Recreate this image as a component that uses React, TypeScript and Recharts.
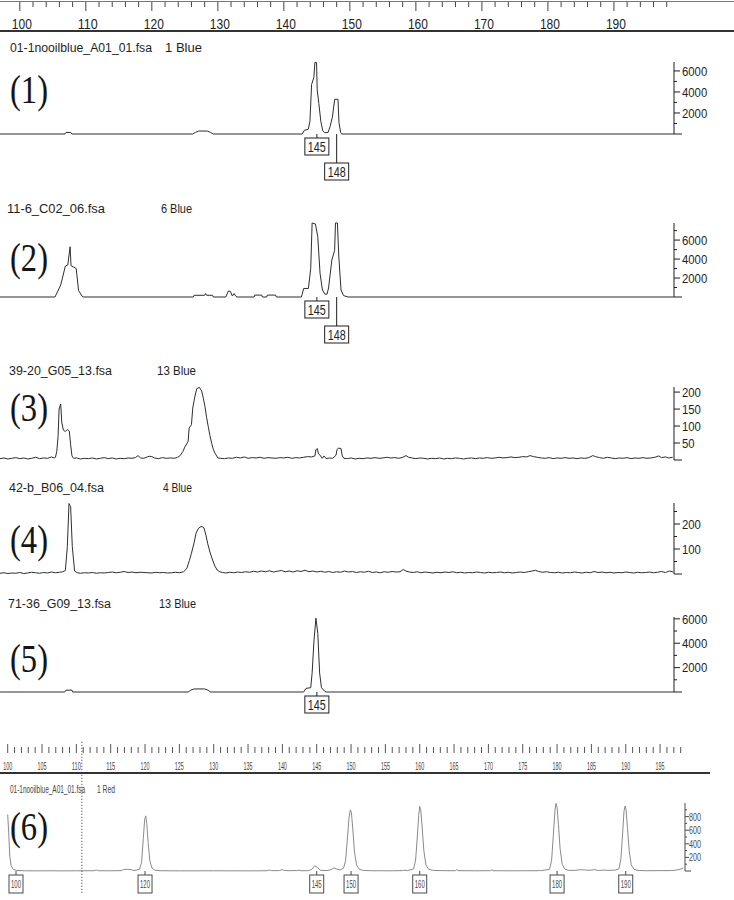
import React from 'react';
import { LineChart, Line, XAxis, YAxis, ReferenceDot, ReferenceLine } from 'recharts';

const SANS = '"Liberation Sans", Arial, sans-serif';
const SERIF = '"Liberation Serif", "Times New Roman", serif';
const INK = '#1e1e1e';
const TRACE = '#2e2e2e';
const GREY = '#4a4a4a';
const RED_TRACE = '#8a8a8a';

// ---------- size axes ----------
const SIZE_DOMAIN: [number, number] = [97.0, 199.1];
const RED_DOMAIN: [number, number] = [98.88, 198.63];

const topRulerTicks = [100, 102, 104, 106, 108, 110, 112, 114, 116, 118, 120, 122, 124, 126, 128, 130, 132, 134, 136, 138, 140, 142, 144, 146, 148, 150, 152, 154, 156, 158, 160, 162, 164, 166, 168, 170, 172, 174, 176, 178, 180, 182, 184, 186, 188, 190, 192, 194, 196, 198];
const topRulerLabels = [100, 110, 120, 130, 140, 150, 160, 170, 180, 190];

const redRulerTicks = [
  100, 101, 102, 103, 104, 105, 106, 107, 108, 109,
  110, 111, 112, 113, 114, 115, 116, 117, 118, 119,
  120, 121, 122, 123, 124, 125, 126, 127, 128, 129,
  130, 131, 132, 133, 134, 135, 136, 137, 138, 139,
  140, 141, 142, 143, 144, 145, 146, 147, 148, 149,
  150, 151, 152, 153, 154, 155, 156, 157, 158, 159,
  160, 161, 162, 163, 164, 165, 166, 167, 168, 169,
  170, 171, 172, 173, 174, 175, 176, 177, 178, 179,
  180, 181, 182, 183, 184, 185, 186, 187, 188, 189,
  190, 191, 192, 193, 194, 195, 196, 197, 198,
];
const redRulerLabels = [100, 105, 110, 115, 120, 125, 130, 135, 140, 145, 150, 155, 160, 165, 170, 175, 180, 185, 190, 195];

// ---------- sample names ----------
const sampleFiles = ['01-1nooilblue_A01_01.fsa', '11-6_C02_06.fsa', '39-20_G05_13.fsa', '42-b_B06_04.fsa', '71-36_G09_13.fsa'];
const dyeLabels = ['1 Blue', '6 Blue', '13 Blue', '4 Blue', '13 Blue'];
const panelNumbers = ['(1)', '(2)', '(3)', '(4)', '(5)', '(6)'];
const redFile = '01-1nooilblue_A01_01.fsa';
const redDye = '1 Red';

// ---------- traces: [size (bp), RFU] ----------
const p1Trace: [number, number][] = [
  [97.0, 0], [106.85, 0], [107.0, 150], [107.7, 150], [107.9, 0],
  [126.2, 0], [126.6, 150], [127.1, 280], [128.4, 280], [128.9, 150], [129.3, 0],
  [142.8, 0], [143.1, 350], [143.7, 450], [143.95, 1200], [144.2, 4700], [144.55, 5400], [144.7, 6800], [144.95, 6800],
  [145.05, 4200], [145.3, 2900], [145.6, 1200], [145.9, 300], [146.2, 120], [146.7, 150], [147.0, 700], [147.35, 1600],
  [147.7, 3300], [148.2, 3300], [148.35, 1100], [148.6, 150], [148.75, 0], [199.1, 0],
];
const p1Peaks = [145, 148];
const p1YTicks = [0, 1000, 2000, 3000, 4000, 5000, 6000];
const p1YLabels = [2000, 4000, 6000];

const p2Trace: [number, number][] = [
  [97.0, 0], [105.33, 0], [106.2, 1260], [106.9, 3260], [107.27, 3370], [107.62, 5300], [107.76, 3300], [108.18, 3150],
  [108.54, 3000], [108.9, 700], [109.4, 100], [109.7, 0],
  [126.3, 0], [126.4, 180], [128.0, 180], [128.15, 370], [128.3, 180], [129.2, 180], [129.3, 0],
  [131.2, 0], [131.6, 630], [131.9, 600], [132.2, 100], [132.45, 370], [132.7, 100], [132.9, 0],
  [135.5, 0], [135.6, 200], [136.65, 200], [136.75, 0],
  [137.4, 0], [137.5, 200], [138.75, 200], [138.85, 0],
  [142.66, 0], [143.0, 900], [143.72, 900], [144.07, 3000], [144.28, 7800], [144.78, 7700], [145.14, 6350], [145.48, 2500],
  [145.84, 740], [146.2, 300], [146.54, 300], [146.77, 950], [147.27, 3900], [147.69, 4900], [147.82, 7800], [148.11, 7800],
  [148.32, 4300], [148.66, 740], [149.04, 150], [149.72, 0], [199.1, 0],
];
const p2Peaks = [145, 148];
const p2YTicks = [0, 1000, 2000, 3000, 4000, 5000, 6000, 7000];
const p2YLabels = [2000, 4000, 6000];

const p3Trace: [number, number][] = [
  [97.0, 4], [97.6, 6], [98.2, 3], [98.8, 5], [99.4, 7], [100.0, 4], [100.6, 6], [101.2, 3], [101.8, 5], [102.4, 8],
  [103.0, 4], [103.6, 6], [104.2, 5], [104.8, 9], [105.2, 6],
  [105.4, 8], [105.6, 25], [105.8, 70], [105.95, 150], [106.2, 165], [106.35, 112], [106.6, 88], [106.9, 84], [107.2, 90],
  [107.5, 85], [107.7, 45], [107.9, 12], [108.15, 5],
  [108.6, 6], [109.2, 3], [109.8, 5], [110.4, 4], [111.0, 6], [111.6, 3], [112.2, 5], [112.8, 7], [113.4, 4], [114.0, 6],
  [114.6, 3], [115.2, 5], [115.8, 4], [116.4, 6], [117.0, 5], [117.5, 7],
  [117.9, 13], [118.3, 6], [118.8, 5], [119.3, 9], [119.6, 11], [120.0, 10], [120.4, 6], [121.0, 4], [121.6, 7], [122.2, 5],
  [122.8, 6], [123.4, 5], [123.9, 8],
  [124.3, 13], [124.7, 25], [125.0, 38], [125.5, 55], [125.65, 94], [126.0, 104], [126.2, 153], [126.5, 185], [126.8, 210],
  [127.2, 214], [127.55, 203], [127.8, 182], [128.05, 157], [128.3, 125], [128.55, 98], [128.8, 72], [129.07, 49],
  [129.3, 32], [129.57, 20], [130.0, 6],
  [130.4, 5], [131.0, 4], [131.6, 6], [132.2, 5], [132.8, 8], [133.4, 6], [134.0, 9], [134.6, 5], [135.2, 7], [135.8, 6],
  [136.4, 8], [137.0, 5], [137.6, 7], [138.2, 6], [138.8, 5], [139.4, 7], [140.0, 6], [140.6, 8], [141.2, 5], [141.8, 7],
  [142.4, 6], [143.0, 8], [143.6, 10], [144.2, 9],
  [144.7, 12], [144.85, 30], [145.05, 34], [145.25, 18], [145.5, 14], [145.8, 5], [146.1, 12], [146.4, 4], [146.9, 6],
  [147.4, 5], [147.9, 14], [148.05, 30], [148.25, 35], [148.65, 34], [148.85, 12], [149.1, 5],
  [149.6, 4], [150.2, 6], [150.8, 3], [151.4, 5], [152.0, 4], [152.6, 6], [153.2, 5], [153.8, 7], [154.4, 5], [155.0, 6],
  [155.6, 8], [156.2, 6], [156.8, 7], [157.4, 5], [158.0, 8], [158.5, 13], [158.9, 8], [159.4, 6], [160.0, 4], [160.6, 6],
  [161.2, 5], [161.8, 3], [162.4, 5], [163.0, 4], [163.6, 6], [164.2, 3], [164.8, 5], [165.4, 4], [166.0, 6], [166.6, 5],
  [167.2, 3], [167.8, 5], [168.4, 6], [169.0, 4], [169.6, 6], [170.2, 5], [170.8, 7], [171.4, 5], [172.0, 6], [172.6, 8],
  [173.2, 6], [173.8, 7], [174.4, 9], [175.0, 7], [175.6, 8], [176.2, 10], [176.8, 9], [177.3, 13], [177.8, 10], [178.4, 8],
  [179.0, 6], [179.6, 5], [180.2, 7], [180.8, 4], [181.4, 6], [182.0, 5], [182.6, 7], [183.2, 5], [183.8, 6], [184.4, 4],
  [185.0, 6], [185.6, 5], [186.2, 7], [186.8, 13], [187.2, 10], [187.8, 7], [188.4, 5], [189.0, 8], [189.6, 6], [190.2, 4],
  [190.8, 6], [191.4, 5], [192.0, 7], [192.6, 4], [193.2, 6], [193.8, 5], [194.4, 7], [195.0, 5], [195.6, 6], [196.2, 8],
  [196.8, 12], [197.2, 7], [197.8, 9], [198.3, 6], [198.9, 8],
];
const p3YTicks = [0, 50, 100, 150, 200];
const p3YLabels = [50, 100, 150, 200];

const p4Trace: [number, number][] = [
  [97.0, 3], [97.6, 5], [98.2, 2], [98.8, 4], [99.4, 3], [100.0, 6], [100.6, 2], [101.2, 4], [101.8, 7], [102.4, 5],
  [103.0, 3], [103.6, 6], [104.2, 4], [104.8, 8], [105.4, 5], [106.0, 7], [106.5, 9],
  [106.9, 14], [107.2, 110], [107.45, 282], [107.7, 270], [107.95, 110], [108.3, 12], [108.7, 5],
  [109.2, 3], [109.8, 5], [110.4, 4], [111.0, 6], [111.6, 3], [112.2, 5], [112.8, 4], [113.4, 6], [114.0, 8], [114.6, 5],
  [115.2, 7], [115.8, 10], [116.4, 6], [117.0, 8], [117.6, 5], [118.2, 7], [118.8, 6], [119.4, 5], [120.0, 4], [120.6, 7],
  [121.2, 5], [121.8, 6], [122.4, 4], [123.0, 5], [123.6, 7], [124.2, 5], [124.8, 9],
  [125.3, 22], [125.7, 55], [126.0, 83], [126.4, 125], [126.7, 163], [127.0, 180], [127.3, 188], [127.6, 190], [127.9, 184],
  [128.2, 155], [128.45, 123], [128.8, 88], [129.2, 56], [129.55, 32], [129.9, 16], [130.3, 9],
  [130.7, 6], [131.2, 4], [131.8, 7], [132.4, 5], [133.0, 8], [133.6, 6], [134.2, 9], [134.8, 7], [135.4, 11], [136.0, 8],
  [136.6, 12], [137.2, 9], [137.8, 13], [138.4, 8], [139.0, 11], [139.6, 14], [140.2, 9], [140.8, 12], [141.4, 8], [142.0, 13],
  [142.6, 10], [143.2, 15], [143.8, 9], [144.4, 12], [145.0, 8], [145.6, 11], [146.2, 7], [146.8, 10], [147.4, 6], [148.0, 9],
  [148.6, 7], [149.2, 12], [149.8, 8], [150.4, 10], [151.0, 6], [151.6, 9], [152.2, 7], [152.8, 11], [153.4, 6], [154.0, 8],
  [154.6, 5], [155.2, 9], [155.8, 7], [156.4, 10], [157.0, 8], [157.6, 9], [158.1, 18], [158.5, 12], [159.0, 8], [159.6, 6],
  [160.2, 9], [160.8, 5], [161.4, 8], [162.0, 6], [162.6, 4], [163.2, 7], [163.8, 5], [164.4, 8], [165.0, 6], [165.6, 9],
  [166.2, 5], [166.8, 7], [167.4, 4], [168.0, 6], [168.6, 5], [169.2, 8], [169.8, 6], [170.4, 4], [171.0, 7], [171.6, 5],
  [172.2, 6], [172.8, 8], [173.4, 5], [174.0, 7], [174.6, 4], [175.2, 6], [175.8, 8], [176.4, 6], [177.0, 9], [177.6, 12],
  [178.1, 15], [178.6, 10], [179.2, 7], [179.8, 9], [180.4, 6], [181.0, 5], [181.6, 7], [182.2, 4], [182.8, 6], [183.4, 5],
  [184.0, 8], [184.6, 6], [185.2, 4], [185.8, 7], [186.4, 5], [187.0, 10], [187.6, 6], [188.2, 8], [188.8, 5], [189.4, 7],
  [190.0, 4], [190.6, 6], [191.2, 5], [191.8, 8], [192.4, 6], [193.0, 4], [193.6, 7], [194.2, 5], [194.8, 6], [195.4, 8],
  [196.0, 5], [196.6, 7], [197.2, 10], [197.8, 6], [198.4, 12], [199.0, 8],
];
const p4YTicks = [0, 50, 100, 150, 200, 250];
const p4YLabels = [100, 200];

const p5Trace: [number, number][] = [
  [97.0, 0], [106.8, 0], [107.0, 150], [107.9, 150], [108.0, 0],
  [125.5, 0], [125.9, 150], [126.4, 250], [128.0, 250], [128.5, 150], [128.9, 0],
  [143.0, 0], [143.36, 300], [144.07, 350], [144.28, 1550], [144.57, 4250], [144.86, 6050], [145.14, 4800], [145.42, 1550],
  [145.7, 350], [146.2, 50], [146.4, 0], [199.1, 0],
];
const p5Peaks = [145];
const p5YTicks = [0, 1000, 2000, 3000, 4000, 5000, 6000];
const p5YLabels = [2000, 4000, 6000];

// size-standard (red) trace
const p6Trace: [number, number][] = [
  [100.0, 830], [100.15, 560], [100.3, 220], [100.5, 80], [100.8, 25], [101.3, 8], [102.5, 3], [104.0, 2], [106.0, 3],
  [108.0, 2], [110.0, 3], [112.6, 4], [112.9, 15], [113.2, 4], [115.0, 3], [116.6, 6], [116.9, 22], [117.5, 25],
  [118.0, 20], [118.4, 5], [119.2, 25], [119.5, 130], [119.75, 480], [119.95, 760], [120.1, 810], [120.25, 700],
  [120.45, 420], [120.7, 150], [121.0, 45], [121.4, 12], [122.2, 4], [125.0, 2], [130.0, 3], [135.0, 2], [137.8, 4],
  [138.1, 16], [138.4, 5], [139.6, 6], [139.9, 20], [140.3, 8], [141.0, 5], [142.1, 6], [142.4, 14], [142.7, 4],
  [143.8, 5], [144.3, 25], [144.7, 75], [145.1, 55], [145.5, 10], [146.5, 6], [147.1, 20], [147.5, 45], [147.9, 30],
  [148.4, 15], [148.9, 40], [149.2, 150], [149.45, 450], [149.7, 780], [149.9, 900], [150.05, 860], [150.25, 620],
  [150.5, 280], [150.8, 90], [151.2, 25], [151.8, 8], [153.0, 4], [156.0, 3], [157.5, 6], [157.8, 12], [158.2, 5],
  [159.1, 30], [159.4, 160], [159.65, 500], [159.85, 820], [160.0, 950], [160.15, 900], [160.35, 650], [160.6, 300],
  [160.9, 90], [161.3, 25], [162.0, 8], [164.0, 4], [165.2, 5], [165.4, 18], [165.6, 5], [168.0, 3], [170.3, 5],
  [170.5, 16], [170.7, 4], [173.0, 3], [177.2, 4], [177.4, 10], [177.6, 4], [178.9, 25], [179.2, 150], [179.45, 520],
  [179.7, 900], [179.85, 995], [180.0, 940], [180.2, 680], [180.45, 320], [180.75, 100], [181.1, 30], [181.6, 10],
  [182.5, 8], [183.3, 18], [184.0, 15], [184.8, 10], [185.4, 20], [186.0, 8], [186.8, 12], [187.6, 10], [188.4, 12],
  [189.0, 30], [189.3, 180], [189.55, 560], [189.75, 880], [189.9, 955], [190.05, 900], [190.25, 640], [190.5, 300],
  [190.8, 90], [191.2, 25], [191.8, 8], [193.0, 4], [195.0, 5], [196.5, 6], [197.3, 12], [197.9, 25], [198.4, 45],
];
const p6Peaks = [100, 120, 145, 150, 160, 180, 190];
const p6YTicks = [0, 100, 200, 300, 400, 500, 600, 700, 800, 900];
const p6YLabels = [200, 400, 600, 800];
const cursorSize = 110.8;

// ---------- helpers ----------
type Row = { s: number; v: number };
const toRows = (t: [number, number][]): Row[] => t.map(([s, v]) => ({ s, v }));

type TickStyle = { long: number; short: number; gap: number; fs: number; cw: number; color: string };

function makeYTick(labels: number[], o: TickStyle) {
  return (props: any) => {
    const { x, y, payload } = props;
    const v = payload.value as number;
    const lab = labels.includes(v);
    const len = v === 0 ? o.long + 2 : lab ? o.long : o.short;
    const str = String(v);
    return (
      <g>
        <line x1={x} y1={y} x2={x + len} y2={y} stroke={o.color} strokeWidth={1} />
        {lab && (
          <text x={x + o.gap} y={y} dy="0.36em" fontSize={o.fs} fontFamily={SANS} fill={o.color}
            textLength={str.length * o.cw} lengthAdjust="spacingAndGlyphs">{str}</text>
        )}
      </g>
    );
  };
}

type BoxStyle = { w: number; h: number; fs: number; tl: number; color: string; minX: number };

function makeBox(label: number, drop: number, o: BoxStyle) {
  return (props: any) => {
    const cx = Math.max(props.cx, o.minX);
    const cy = props.cy;
    const top = cy + drop;
    return (
      <g>
        <line x1={cx} y1={cy} x2={cx} y2={top} stroke={o.color} strokeWidth={1} />
        <rect x={cx - o.w / 2} y={top} width={o.w} height={o.h} fill="#fff" stroke={o.color} strokeWidth={1} />
        <text x={cx} y={top + o.h / 2} dy="0.36em" textAnchor="middle" fontSize={o.fs} fontFamily={SANS}
          fill={o.color} textLength={o.tl} lengthAdjust="spacingAndGlyphs">{label}</text>
      </g>
    );
  };
}

const blueTickStyle: TickStyle = { long: 6, short: 3, gap: 8, fs: 13, cw: 6.3, color: INK };
const blueBox: BoxStyle = { w: 24, h: 17, fs: 14.5, tl: 18, color: INK, minX: 0 };

type PanelCfg = { top: number; height: number; plotTop: number; plotBottom: number; yMax: number };

function BluePanel({ cfg, trace, yTicks, yLabels, peaks }: { cfg: PanelCfg; trace: [number, number][]; yTicks: number[]; yLabels: number[]; peaks: number[] }) {
  const data = toRows(trace);
  return (
    <div style={{ position: 'absolute', left: 0, top: cfg.top }}>
      <LineChart width={734} height={cfg.height} data={data}
        margin={{ top: cfg.plotTop - cfg.top, right: 0, bottom: cfg.top + cfg.height - cfg.plotBottom, left: 0 }}>
        <XAxis type="number" dataKey="s" domain={SIZE_DOMAIN} hide />
        <YAxis orientation="right" type="number" width={60} domain={[0, cfg.yMax]} ticks={yTicks} interval={0}
          tickSize={0} tickMargin={0} tickLine={false} axisLine={{ stroke: INK }} tick={makeYTick(yLabels, blueTickStyle)} />
        <Line type="linear" dataKey="v" stroke={TRACE} strokeWidth={1} dot={false} activeDot={false} isAnimationActive={false} />
        {peaks.map((pk, i) => {
          const row = i > 0 && pk - peaks[i - 1] < 5 ? 1 : 0;
          return (
            <ReferenceDot key={pk} x={pk} y={0} r={0} ifOverflow="visible"
              shape={makeBox(pk, row === 0 ? 4 : 29, blueBox)} />
          );
        })}
      </LineChart>
    </div>
  );
}

const topRulerTick = (props: any) => {
  const { x, y, payload } = props;
  const v = payload.value as number;
  const lab = topRulerLabels.includes(v);
  return (
    <g>
      <line x1={x} x2={x} y1={y} y2={y + (lab ? 9 : 5)} stroke="#444" strokeWidth={1} />
      {lab && (
        <text x={x + 2} y={y + 26.5} textAnchor="middle" fontSize={14} fontFamily={SANS} fill={INK}
          textLength={20} lengthAdjust="spacingAndGlyphs">{v}</text>
      )}
    </g>
  );
};

const redRulerTick = (props: any) => {
  const { x, y, payload } = props;
  const v = payload.value as number;
  const lab = redRulerLabels.includes(v);
  const yTop = y - 59;
  return (
    <g>
      <line x1={x} x2={x} y1={lab ? yTop : yTop + 3} y2={yTop + 9} stroke="#555" strokeWidth={1} />
      {lab && (
        <text x={x} y={y - 33} textAnchor="middle" fontSize={11} fontFamily={SANS} fill="#444"
          textLength={9} lengthAdjust="spacingAndGlyphs">{v}</text>
      )}
    </g>
  );
};

const redTickStyle: TickStyle = { long: 4, short: 2, gap: 4, fs: 11, cw: 4, color: GREY };
const redBox: BoxStyle = { w: 14, h: 18, fs: 11, tl: 10, color: GREY, minX: 16 };

// text narrowed horizontally: a smaller font stretched vertically, then fitted to its width
function Txt({ x, y, w, fs, sx = 1, children, fill = INK, family = SANS }: any) {
  return (
    <text transform={`translate(${x},${y}) scale(1,${1 / sx})`} x={0} y={0} fontSize={fs * sx} fontFamily={family}
      fill={fill} textLength={w} lengthAdjust="spacingAndGlyphs">{children}</text>
  );
}

// layout (pixels)
const panelCfgs: PanelCfg[] = [
  { top: 40, height: 145, plotTop: 62, plotBottom: 134, yMax: 6850 },
  { top: 195, height: 150, plotTop: 223, plotBottom: 297, yMax: 7800 },
  { top: 380, height: 85, plotTop: 387, plotBottom: 460, yMax: 215 },
  { top: 495, height: 82, plotTop: 503, plotBottom: 574, yMax: 284 },
  { top: 610, height: 110, plotTop: 617, plotBottom: 692, yMax: 6150 },
];
const titleLayout = [
  { x: 10, w: 142, dx: 165, dw: 37, y: 51.5 },
  { x: 7, w: 98, dx: 161, dw: 31, y: 213 },
  { x: 9, w: 103, dx: 157, dw: 39, y: 375 },
  { x: 9, w: 95, dx: 163, dw: 29, y: 492 },
  { x: 8, w: 103, dx: 159, dw: 37, y: 608 },
];
const numberBaselines = [103, 271, 421, 553, 672, 840];

export default function App() {
  return (
    <div style={{ position: 'absolute', left: 0, top: 0, width: 734, height: 900, background: '#fff', overflow: 'hidden' }}>
      <svg width={734} height={900} style={{ position: 'absolute', left: 0, top: 0 }}>
        <line x1={0} x2={734} y1={1.5} y2={1.5} stroke="#777" strokeWidth={1} />
        <rect x={0} y={30} width={734} height={2} fill="#333" />
        {sampleFiles.map((f, i) => (
          <g key={f + i}>
            <Txt x={titleLayout[i].x} y={titleLayout[i].y} w={titleLayout[i].w} fs={13.5} sx={0.88}>{f}</Txt>
            <Txt x={titleLayout[i].dx} y={titleLayout[i].y} w={titleLayout[i].dw} fs={13.5} sx={0.88}>{dyeLabels[i]}</Txt>
          </g>
        ))}
        {panelNumbers.map((n, i) => (
          <Txt key={n} x={10} y={numberBaselines[i]} w={38} fs={40} sx={0.82} family={SERIF} fill="#151515">{n}</Txt>
        ))}
        <rect x={0} y={772} width={710} height={2} fill="#333" />
        <Txt x={10} y={792.5} w={75} fs={10.5} sx={0.6} fill="#444">{redFile}</Txt>
        <Txt x={97} y={792.5} w={18} fs={10.5} sx={0.6} fill="#444">{redDye}</Txt>
      </svg>

      {/* top size ruler */}
      <div style={{ position: 'absolute', left: 0, top: 0 }}>
        <LineChart width={734} height={33} data={[{ s: SIZE_DOMAIN[0] }, { s: SIZE_DOMAIN[1] }]} margin={{ top: 0, right: 60, bottom: 0, left: 0 }}>
          <XAxis type="number" dataKey="s" orientation="top" height={2} domain={SIZE_DOMAIN} ticks={topRulerTicks}
            interval={0} tickSize={0} tickMargin={0} tickLine={false} axisLine={false} tick={topRulerTick} />
        </LineChart>
      </div>

      <BluePanel cfg={panelCfgs[0]} trace={p1Trace} yTicks={p1YTicks} yLabels={p1YLabels} peaks={p1Peaks} />
      <BluePanel cfg={panelCfgs[1]} trace={p2Trace} yTicks={p2YTicks} yLabels={p2YLabels} peaks={p2Peaks} />
      <BluePanel cfg={panelCfgs[2]} trace={p3Trace} yTicks={p3YTicks} yLabels={p3YLabels} peaks={[]} />
      <BluePanel cfg={panelCfgs[3]} trace={p4Trace} yTicks={p4YTicks} yLabels={p4YLabels} peaks={[]} />
      <BluePanel cfg={panelCfgs[4]} trace={p5Trace} yTicks={p5YTicks} yLabels={p5YLabels} peaks={p5Peaks} />

      {/* size standard panel with its own ruler */}
      <div style={{ position: 'absolute', left: 0, top: 738 }}>
        <LineChart width={734} height={162} data={toRows(p6Trace)} margin={{ top: 0, right: 0, bottom: 29, left: 0 }}>
          <XAxis type="number" dataKey="s" orientation="top" height={65} domain={RED_DOMAIN} ticks={redRulerTicks}
            interval={0} tickSize={0} tickMargin={0} tickLine={false} axisLine={false} tick={redRulerTick} />
          <YAxis orientation="right" type="number" width={49} domain={[0, 1000]} ticks={p6YTicks} interval={0}
            tickSize={0} tickMargin={0} tickLine={false} axisLine={{ stroke: GREY }} tick={makeYTick(p6YLabels, redTickStyle)} />
          <Line type="linear" dataKey="v" stroke={RED_TRACE} strokeWidth={1} dot={false} activeDot={false} isAnimationActive={false} />
          <ReferenceLine segment={[{ x: cursorSize, y: 1900 }, { x: cursorSize, y: -320 }]} stroke="#333"
            strokeDasharray="1 2" ifOverflow="visible" />
          {p6Peaks.map((pk) => (
            <ReferenceDot key={pk} x={pk} y={0} r={0} ifOverflow="visible" shape={makeBox(pk, 4, redBox)} />
          ))}
        </LineChart>
      </div>
    </div>
  );
}
